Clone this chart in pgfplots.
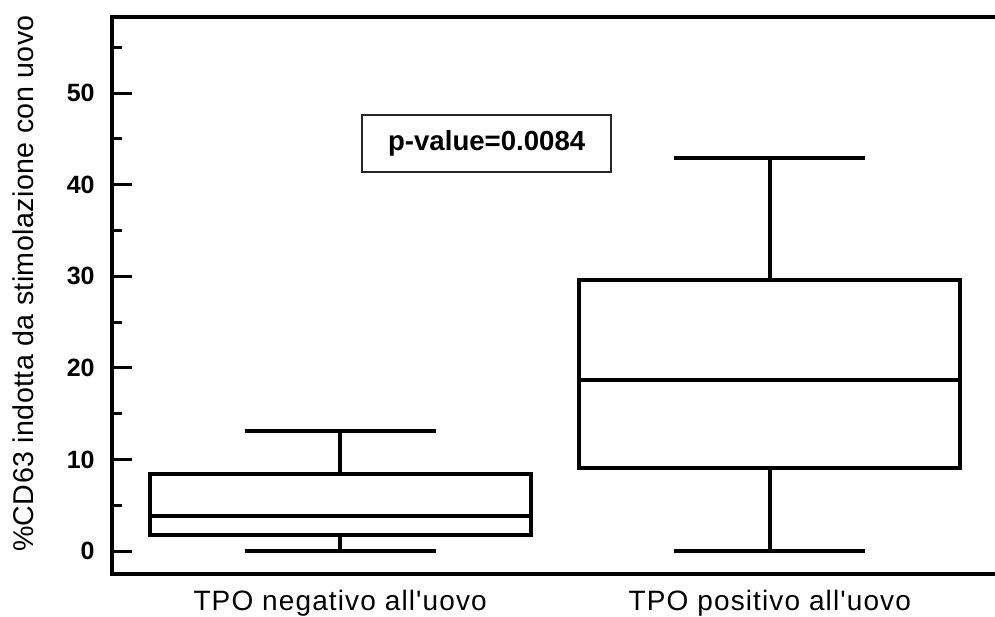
\documentclass[border=0pt]{standalone}
\usepackage{pgfplots}
\pgfplotsset{compat=1.18}
\usepgfplotslibrary{statistics}
\usetikzlibrary{calc}
\usepackage{fontspec}
\setmainfont{Liberation Sans}[Ligatures=TeXOff]
\begin{document}
\begin{tikzpicture}
\begin{axis}[
  name=ax,
  scale only axis,
  width=444.5pt, height=278.5pt,
  xmin=0.469, xmax=2.538,
  ymin=-2.5, ymax=58.3,
  clip=false,
  axis line style={line width=2.25pt, line cap=rect},
  xtick={1,2},
  xticklabels={TPO negativo all'uovo, TPO positivo all'uovo},
  x tick style={draw=none},
  xticklabel style={font=\fontsize{14}{16}\selectfont\addfontfeature{LetterSpace=4}, anchor=base, inner sep=0pt, yshift=-18.3pt},
  ytick={0,10,20,30,40,50},
  minor ytick={5,15,25,35,45,55},
  ytick pos=left,
  tick align=inside,
  y tick style={line width=1.5pt, black},
  major tick length=10pt,
  minor tick length=5pt,
  /pgf/number format/assume math mode=true,
  yticklabel style={font=\bfseries\fontsize{12.5}{14}\selectfont, anchor=east, inner sep=0pt, xshift=-8.5pt},
  ylabel={\%CD63 indotta da stimolazione con uovo},
  every axis y label/.style={at={(axis description cs:-0.0997,0.5215)}, rotate=90, anchor=center, font=\fontsize{14.3}{16}\selectfont\addfontfeature{LetterSpace=1.5}},
  boxplot/draw direction=y,
]
\addplot[black, line width=2pt, boxplot prepared={draw position=1,
  median=3.85, upper quartile=8.4, lower quartile=1.75,
  upper whisker=13.1, lower whisker=0,
  box extend=0.887, whisker extend=0.445}] coordinates {};
\addplot[black, line width=2pt, boxplot prepared={draw position=2,
  median=18.7, upper quartile=29.6, lower quartile=9.1,
  upper whisker=42.9, lower whisker=0,
  box extend=0.887, whisker extend=0.445}] coordinates {};
\node[draw=black!85, line width=1pt, minimum width=124.8pt, minimum height=28.65pt, inner sep=0pt,
  font=\bfseries\fontsize{13.8}{16}\selectfont] at (axis cs:1.341,44.5) {p-value=0.0084};
\end{axis}
\pgfresetboundingbox
\path ($(ax.south west)+(-56pt,-21pt)$) rectangle ($(ax.south west)+(441.5pt,287pt)$);
\end{tikzpicture}
\end{document}
